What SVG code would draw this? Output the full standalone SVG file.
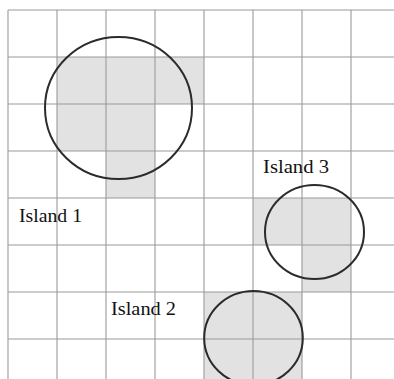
<svg xmlns="http://www.w3.org/2000/svg" width="394" height="379" viewBox="0 0 394 379">
<style>
.cell{fill:#e2e2e2;stroke:none}
.grid line{stroke:#9a9a9a;stroke-width:1.1}
.isl{fill:none;stroke:#2b2b2b;stroke-width:2}
.lbl{font-family:"Liberation Serif","DejaVu Serif",serif;font-size:19.5px;fill:#111111}
</style>
<rect width="394" height="379" fill="#ffffff"/>
<g id="shading">
<rect class="cell" x="57" y="57" width="147" height="47"/>
<rect class="cell" x="57" y="104" width="98" height="47"/>
<rect class="cell" x="106" y="151" width="49" height="47"/>
<rect class="cell" x="253" y="198" width="98" height="47"/>
<rect class="cell" x="302" y="245" width="49" height="47"/>
<rect class="cell" x="204" y="292" width="98" height="87"/>
</g>
<g class="grid" id="grid">
<line x1="8" y1="10" x2="8" y2="379"/>
<line x1="57" y1="10" x2="57" y2="379"/>
<line x1="106" y1="10" x2="106" y2="379"/>
<line x1="155" y1="10" x2="155" y2="379"/>
<line x1="204" y1="10" x2="204" y2="379"/>
<line x1="253" y1="10" x2="253" y2="379"/>
<line x1="302" y1="10" x2="302" y2="379"/>
<line x1="351" y1="10" x2="351" y2="379"/>
<line x1="8" y1="10" x2="394" y2="10"/>
<line x1="8" y1="57" x2="394" y2="57"/>
<line x1="8" y1="104" x2="394" y2="104"/>
<line x1="8" y1="151" x2="394" y2="151"/>
<line x1="8" y1="198" x2="394" y2="198"/>
<line x1="8" y1="245" x2="394" y2="245"/>
<line x1="8" y1="292" x2="394" y2="292"/>
<line x1="8" y1="339" x2="394" y2="339"/>
</g>
<g id="island1">
<ellipse class="isl" cx="118.5" cy="108" rx="73.5" ry="71"/>
<text class="lbl" x="19" y="222" textLength="63" lengthAdjust="spacingAndGlyphs">Island 1</text>
</g>
<g id="island2">
<ellipse class="isl" cx="253.5" cy="338" rx="49.3" ry="47"/>
<text class="lbl" x="111" y="315" textLength="65" lengthAdjust="spacingAndGlyphs">Island 2</text>
</g>
<g id="island3">
<ellipse class="isl" cx="314.5" cy="232" rx="49.5" ry="47"/>
<text class="lbl" x="263" y="173" textLength="66" lengthAdjust="spacingAndGlyphs">Island 3</text>
</g>
<g id="connectors"/>
</svg>
